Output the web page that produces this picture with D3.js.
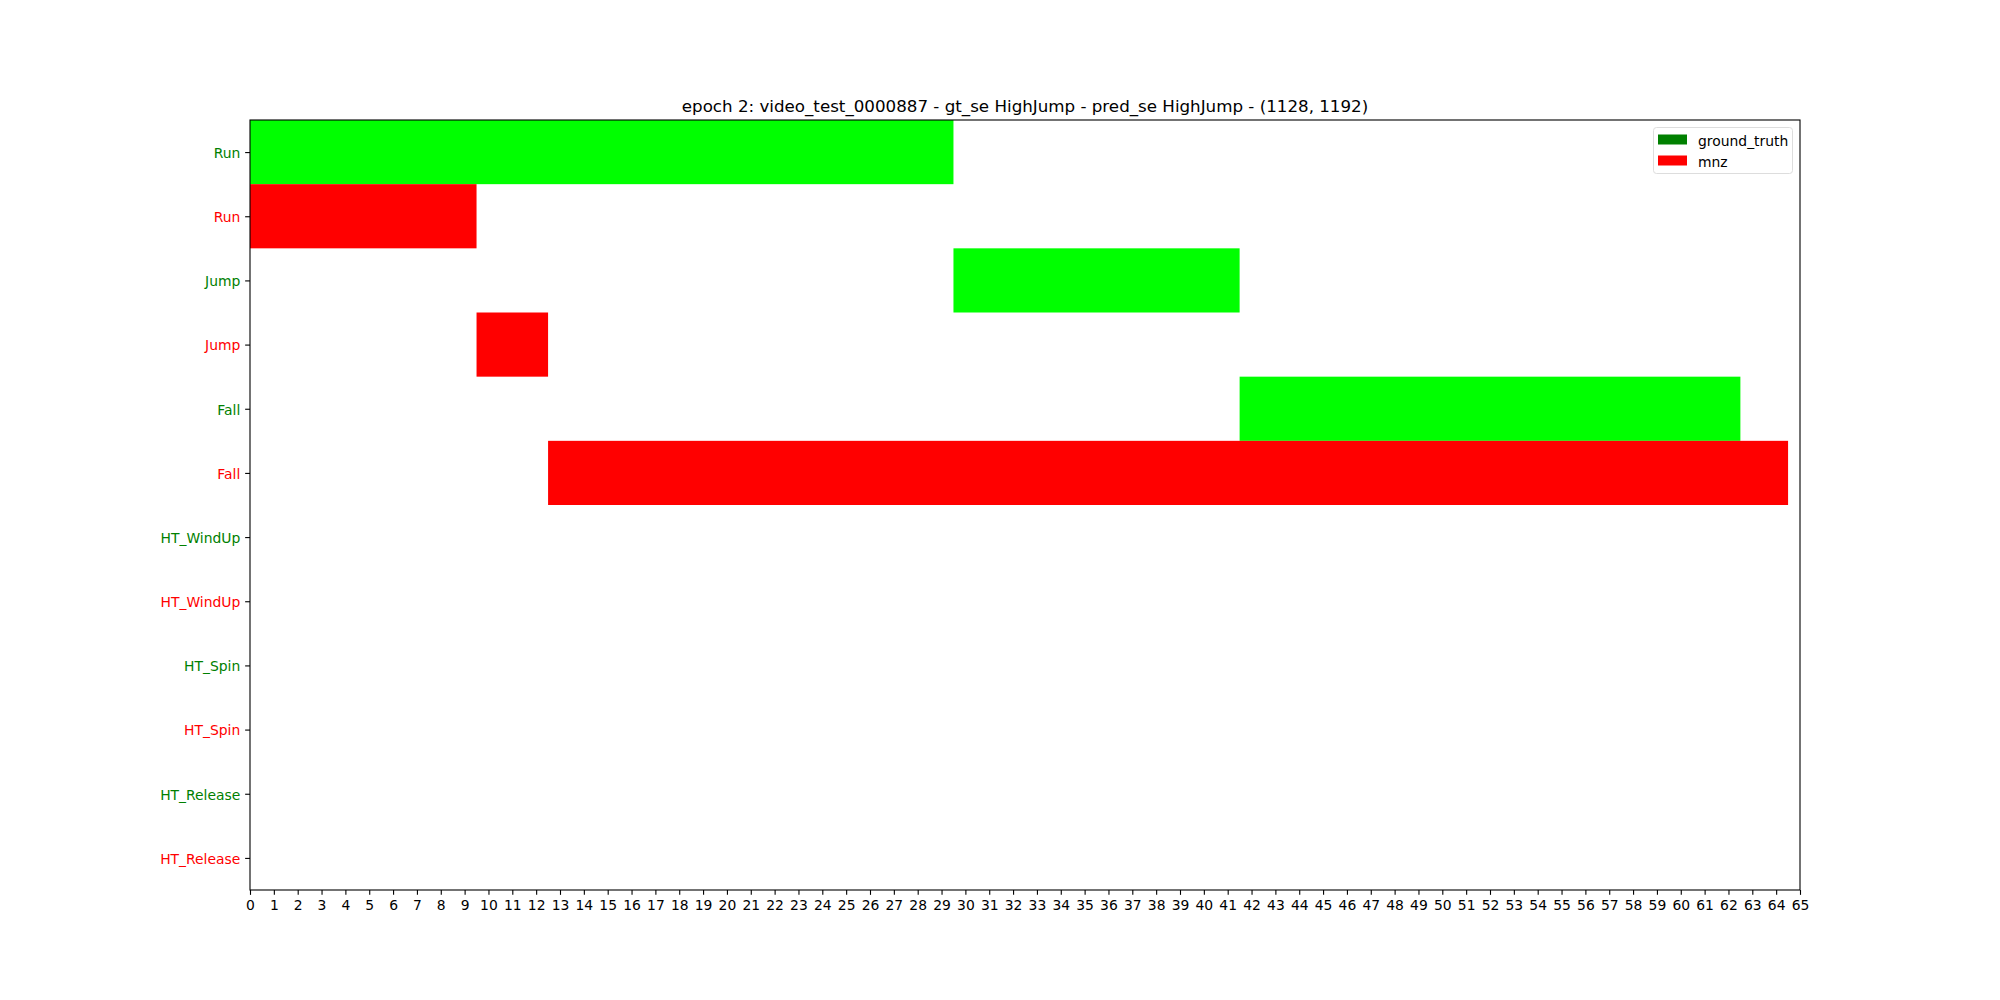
<!DOCTYPE html>
<html><head><meta charset="utf-8">
<script src="https://cdn.jsdelivr.net/npm/d3@7"></script>
<style>body{margin:0;background:#fff}svg{display:block}text{font-family:"DejaVu Sans",sans-serif}</style>
</head><body>
<svg id="c" width="2000" height="1000"></svg>
<script>
const title = "epoch 2: video_test_0000887 - gt_se HighJump - pred_se HighJump - (1128, 1192)";
const categories = ["Run","Run","Jump","Jump","Fall","Fall","HT_WindUp","HT_WindUp","HT_Spin","HT_Spin","HT_Release","HT_Release"];
const categorySeries = ["ground_truth","mnz","ground_truth","mnz","ground_truth","mnz","ground_truth","mnz","ground_truth","mnz","ground_truth","mnz"];
const seriesNames = ["ground_truth","mnz"];
const seriesLabelColors = {"ground_truth":"#008000","mnz":"#ff0000"};
const seriesBarColors = {"ground_truth":"#00ff00","mnz":"#ff0000"};
const segRow = [0,1,2,3,4,5];
const segStart = [0,0,29.5,9.5,41.5,12.5];
const segEnd = [29.5,9.5,41.5,12.5,62.5,64.5];
const xTicks = d3.range(0,66,1);

const W=2000,H=1000,L=250,R=1800,T=120,B=890;
const svg=d3.select("#c");
const x=d3.scaleLinear().domain([0,65]).range([L,R]);
const y=d3.scaleLinear().domain([-0.5,11.5]).range([T,B]);

svg.append("g").selectAll("rect").data(segRow).join("rect")
  .attr("x",(d,i)=>x(segStart[i]))
  .attr("width",(d,i)=>x(segEnd[i])-x(segStart[i]))
  .attr("y",d=>y(d-0.5))
  .attr("height",d=>y(d+0.5)-y(d-0.5))
  .attr("fill",d=>seriesBarColors[categorySeries[d]]);

// frame
svg.append("rect").attr("x",L).attr("y",T).attr("width",R-L).attr("height",B-T)
  .attr("fill","none").attr("stroke","#000").attr("stroke-width",1.1);

const xa=svg.append("g").attr("transform",`translate(0,${B})`)
  .call(d3.axisBottom(x).tickValues(xTicks).tickFormat(d3.format("d")).tickSize(4.86).tickPadding(5.5).tickSizeOuter(0));
xa.select(".domain").remove();
xa.selectAll("text").attr("font-size",13.9).attr("fill","#000").style("font-family","DejaVu Sans");
xa.selectAll("line").attr("stroke","#000").attr("stroke-width",1.1);

const ya=svg.append("g").attr("transform",`translate(${L},0)`)
  .call(d3.axisLeft(y).tickValues(d3.range(0,12)).tickFormat(i=>categories[i]).tickSize(4.86).tickPadding(4.86).tickSizeOuter(0));
ya.select(".domain").remove();
ya.selectAll("text").attr("font-size",13.9).attr("dy","0.38em").attr("fill",i=>seriesLabelColors[categorySeries[i]]).style("font-family","DejaVu Sans");
ya.selectAll("line").attr("stroke","#000").attr("stroke-width",1.1);

svg.append("text").attr("x",(L+R)/2).attr("y",112).attr("text-anchor","middle")
  .attr("font-size",16.7).attr("fill","#000").text(title);

// legend
const lg=svg.append("g");
lg.append("rect").attr("x",1653.5).attr("y",127.5).attr("width",139).attr("height",46).attr("rx",3)
  .attr("fill","#fff").attr("fill-opacity",0.8).attr("stroke","#ddd").attr("stroke-width",1);
seriesNames.forEach((s,i)=>{
  const yy=134.5+i*21;
  lg.append("rect").attr("x",1658).attr("y",yy).attr("width",29).attr("height",10).attr("fill",seriesLabelColors[s]);
  lg.append("text").attr("x",1698).attr("y",yy+11.5).attr("font-size",13.9).attr("fill","#000").text(s);
});
</script>
</body></html>
